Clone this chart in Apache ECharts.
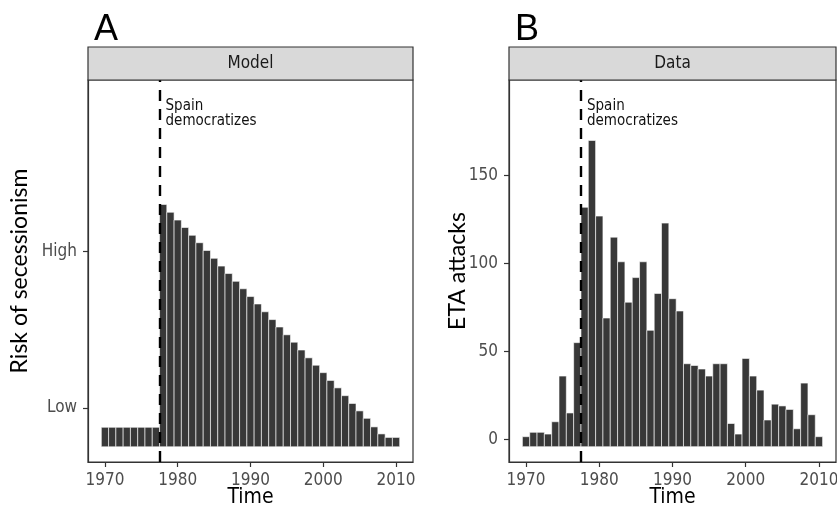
<!DOCTYPE html>
<html>
<head>
<meta charset="utf-8">
<script src="https://cdn.jsdelivr.net/npm/echarts@6/dist/echarts.min.js"></script>
<style>
html,body{margin:0;padding:0;background:#fff;}
#chart{width:837px;height:512px;}
</style>
</head>
<body>
<div id="chart"></div>
<script>
// ---- data ----
const years = [1970,1971,1972,1973,1974,1975,1976,1977,1978,1979,1980,1981,1982,1983,1984,1985,1986,1987,1988,1989,1990,1991,1992,1993,1994,1995,1996,1997,1998,1999,2000,2001,2002,2003,2004,2005,2006,2007,2008,2009,2010];
const modelRisk = [0.50,0.50,0.50,0.50,0.50,0.50,0.50,0.50,
  6.21,6.01,5.81,5.62,5.42,5.23,5.03,4.83,4.63,4.44,4.24,4.05,3.85,3.66,3.46,3.26,3.07,2.87,2.68,2.48,2.28,2.09,1.90,1.70,1.51,1.31,1.11,0.92,0.73,0.51,0.33,0.24,0.24];
const etaAttacks = [1.5,4,4,3,10,36,15,55,
  132,170,127,69,115,101,78,92,101,62,83,123,80,73,43,42,40,36,43,43,9,3,46,36,28,11,20,19,17,6,32,14,1.5];
const democratizationYear = 1977.5;
const xTickValues = [1970,1980,1990,2000,2010];
const yTickValuesA = [1,5];
const yTickLabelsA = ['Low','High'];
const yTickValuesB = [0,50,100,150];
const panelTitles = ['Model','Data'];
const panelLetters = ['A','B'];
const annotation = 'Spain\ndemocratizes';

// ---- styles / layout ----
const FONT = 'Lato';
const NARROW = '"Liberation Sans Narrow", "DejaVu Sans Condensed", Lato';
const barFill = '#383838';
const gridA = {left:88, top:80, width:325, height:382};
const gridB = {left:509, top:80, width:327, height:382};
const xMin = 1967.67, xMax = 2012.33;
const baseA = 0, baseB = -4.2;

function barRenderer(base){
  return function(params, api){
    const x = api.value(0), v = api.value(1);
    const p0 = api.coord([x - 0.5, v]);
    const p1 = api.coord([x + 0.5, base]);
    return {
      type:'rect',
      shape:{x:p0[0], y:p0[1], width:p1[0]-p0[0], height:p1[1]-p0[1]},
      style:{fill:barFill, stroke:'#ffffff', lineWidth:0.6}
    };
  };
}

function xAxisFor(gi){
  return {
    type:'value', gridIndex:gi, min:xMin, max:xMax,
    name:'Time', nameLocation:'middle', nameGap:25, nameMoveOverlap:false,
    nameTextStyle:{fontFamily:NARROW, fontSize:21, color:'#000'},
    axisLine:{show:true, onZero:false, lineStyle:{color:'#333', width:1.2}},
    axisTick:{show:true, length:5, customValues:xTickValues, lineStyle:{color:'#333', width:1.2}},
    axisLabel:{show:true, customValues:xTickValues, margin:10, fontFamily:NARROW, fontSize:17, color:'#4d4d4d',
      formatter:function(v){ return String(v); }},
    splitLine:{show:false}
  };
}

const dashStyle = {color:'#000', width:2.4, type:[11,8]};
const gridCommon = {show:true, borderColor:'#333', borderWidth:1.2, backgroundColor:'#fff',
  containLabel:false, outerBoundsMode:'none'};

const option = {
  animation:false,
  grid:[
    Object.assign({}, gridCommon, gridA),
    Object.assign({}, gridCommon, gridB)
  ],
  xAxis:[xAxisFor(0), xAxisFor(1)],
  yAxis:[
    {
      type:'value', gridIndex:0, min:-0.39, max:9.4,
      name:'Risk of secessionism', nameLocation:'middle', nameGap:57, nameMoveOverlap:false,
      nameTextStyle:{fontFamily:FONT, fontSize:23, color:'#000'},
      axisLine:{show:true, lineStyle:{color:'#333', width:1.2}},
      axisTick:{show:true, length:5, customValues:yTickValuesA, lineStyle:{color:'#333', width:1.2}},
      axisLabel:{show:true, customValues:yTickValuesA, margin:11, fontFamily:NARROW, fontSize:17, color:'#4d4d4d',
        formatter:function(v){ const i = yTickValuesA.indexOf(v); return i >= 0 ? yTickLabelsA[i] : ''; }},
      splitLine:{show:false}
    },
    {
      type:'value', gridIndex:1, min:-12.9, max:204.4,
      name:'ETA attacks', nameLocation:'middle', nameGap:40, nameMoveOverlap:false,
      nameTextStyle:{fontFamily:FONT, fontSize:23, color:'#000'},
      axisLine:{show:true, lineStyle:{color:'#333', width:1.2}},
      axisTick:{show:true, length:5, customValues:yTickValuesB, lineStyle:{color:'#333', width:1.2}},
      axisLabel:{show:true, customValues:yTickValuesB, margin:11, fontFamily:NARROW, fontSize:17, color:'#4d4d4d'},
      splitLine:{show:false}
    }
  ],
  series:[
    {
      type:'custom', name:'Model', xAxisIndex:0, yAxisIndex:0, clip:true,
      renderItem:barRenderer(baseA),
      encode:{x:0, y:1},
      data:years.map((y,i)=>[y, modelRisk[i]]),
      markLine:{silent:true, symbol:['none','none'], label:{show:false}, lineStyle:dashStyle,
        data:[{xAxis:democratizationYear}]}
    },
    {
      type:'custom', name:'Data', xAxisIndex:1, yAxisIndex:1, clip:true,
      renderItem:barRenderer(baseB),
      encode:{x:0, y:1},
      data:years.map((y,i)=>[y, etaAttacks[i]]),
      markLine:{silent:true, symbol:['none','none'], label:{show:false}, lineStyle:dashStyle,
        data:[{xAxis:democratizationYear}]}
    }
  ]
};

const chart = echarts.init(document.getElementById('chart'), null, {renderer:'canvas'});
chart.setOption(option);

// strips, panel letters and annotations
const grids = [gridA, gridB];
const graphics = [];
grids.forEach(function(g, i){
  graphics.push({type:'rect', shape:{x:g.left, y:47, width:g.width, height:g.top-47},
    style:{fill:'#d9d9d9', stroke:'#333', lineWidth:1.2}, z:10});
  graphics.push({type:'text', x:g.left + g.width/2, y:(47+g.top)/2, z:11,
    style:{text:panelTitles[i], font:'17px ' + NARROW, fill:'#1a1a1a', align:'center', verticalAlign:'middle'}});
  graphics.push({type:'text', x:g.left + 6, y:30.5, z:11,
    style:{text:panelLetters[i], font:'36px "Liberation Sans"', fill:'#000', align:'left', verticalAlign:'middle'}});
  const px = chart.convertToPixel({gridIndex:i}, [democratizationYear, 0]);
  graphics.push({type:'text', x:px[0] + 6, y:99, z:11,
    style:{text:annotation, font:'15px ' + NARROW, fill:'#111', align:'left', verticalAlign:'top', lineHeight:14.5}});
});
chart.setOption({graphic:graphics});
</script>
</body>
</html>
